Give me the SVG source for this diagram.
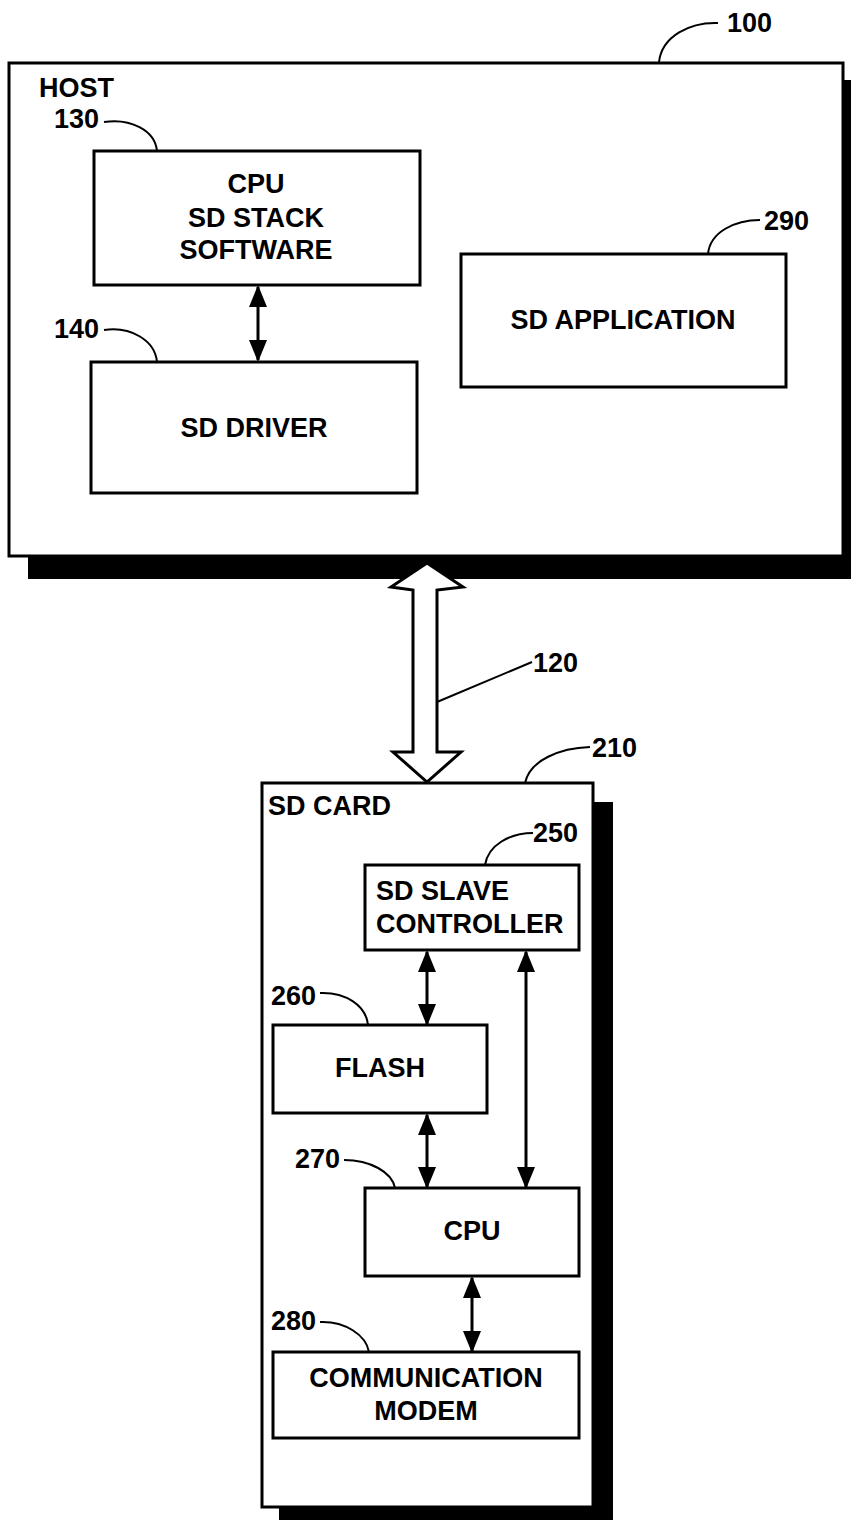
<svg xmlns="http://www.w3.org/2000/svg" width="851" height="1522" viewBox="0 0 851 1522">
<style>
.box{fill:#fff;stroke:#000;stroke-width:3}
.shadow{fill:#000}
.t{font-family:"Liberation Sans",Arial,sans-serif;font-weight:bold;font-size:27px;fill:#000}
.c{text-anchor:middle}
.lead{fill:none;stroke:#000;stroke-width:2}
.conn{stroke:#000;stroke-width:3;fill:none}
</style>
<defs>
<marker id="ah" viewBox="0 0 22 18" refX="20" refY="9" markerWidth="22" markerHeight="18" markerUnits="userSpaceOnUse" orient="auto-start-reverse">
<path d="M0,0 L22,9 L0,18 z" fill="#000"/>
</marker>
</defs>
<rect width="851" height="1522" fill="#fff"/>

<g id="host">
<rect class="shadow" x="28" y="80" width="823" height="499"/>
<rect class="box" x="9" y="63" width="834" height="493"/>
<text class="t" x="39" y="97" font-size="28">HOST</text>
<text class="t" x="727" y="32">100</text>
<path class="lead" d="M718 23 C690 22 662 36 659 62"/>
</g>

<g id="cpu130">
<rect class="box" x="94" y="151" width="326" height="134"/>
<text class="t c" x="256" y="193">CPU</text>
<text class="t c" x="256" y="227">SD STACK</text>
<text class="t c" x="256" y="259">SOFTWARE</text>
<text class="t" x="54" y="128">130</text>
<path class="lead" d="M104 122 C130 118 155 130 157 151"/>
</g>

<g id="driver140">
<rect class="box" x="91" y="362" width="326" height="131"/>
<text class="t c" x="254" y="437">SD DRIVER</text>
<text class="t" x="54" y="338">140</text>
<path class="lead" d="M104 330 C130 326 155 340 157 362"/>
</g>

<g id="app290">
<rect class="box" x="461" y="254" width="325" height="133"/>
<text class="t c" x="623" y="329">SD APPLICATION</text>
<text class="t" x="764" y="230">290</text>
<path class="lead" d="M760 220 C735 220 710 232 708 254"/>
</g>

<g id="bus120">
<path d="M427 563 L463 587 L437 590 L437 752 L461 752 L427 782 L393 752 L413 752 L413 590 L391 587 Z" fill="#fff" stroke="#000" stroke-width="3" stroke-linejoin="miter"/>
<text class="t" x="533" y="672">120</text>
<path class="lead" d="M532 662 L437 702"/>
</g>

<g id="sdcard210">
<rect class="shadow" x="279" y="802" width="334" height="718"/>
<rect class="box" x="262" y="783" width="331" height="724"/>
<text class="t" x="268" y="815" font-size="26">SD CARD</text>
<text class="t" x="592" y="757">210</text>
<path class="lead" d="M590 747 C560 748 530 760 525 783"/>
</g>

<g id="slave250">
<rect class="box" x="365" y="865" width="214" height="85"/>
<text class="t" x="376" y="900">SD SLAVE</text>
<text class="t" x="376" y="933">CONTROLLER</text>
<text class="t" x="533" y="842">250</text>
<path class="lead" d="M533 833 C510 833 488 845 485 865"/>
</g>

<g id="flash260">
<rect class="box" x="273" y="1025" width="214" height="88"/>
<text class="t c" x="380" y="1077">FLASH</text>
<text class="t" x="271" y="1005">260</text>
<path class="lead" d="M320 993 C345 992 366 1005 368 1025"/>
</g>

<g id="cpu270">
<rect class="box" x="365" y="1188" width="214" height="88"/>
<text class="t c" x="472" y="1240">CPU</text>
<text class="t" x="295" y="1168">270</text>
<path class="lead" d="M344 1160 C370 1160 392 1172 395 1188"/>
</g>

<g id="modem280">
<rect class="box" x="273" y="1352" width="306" height="86"/>
<text class="t c" x="426" y="1387">COMMUNICATION</text>
<text class="t c" x="426" y="1420">MODEM</text>
<text class="t" x="271" y="1330">280</text>
<path class="lead" d="M320 1322 C345 1321 366 1335 369 1352"/>
</g>

<g id="connectors">
<line class="conn" x1="258" y1="287" x2="258" y2="360" marker-start="url(#ah)" marker-end="url(#ah)"/>
<line class="conn" x1="427" y1="952" x2="427" y2="1024" marker-start="url(#ah)" marker-end="url(#ah)"/>
<line class="conn" x1="526" y1="952" x2="526" y2="1187" marker-start="url(#ah)" marker-end="url(#ah)"/>
<line class="conn" x1="427" y1="1115" x2="427" y2="1187" marker-start="url(#ah)" marker-end="url(#ah)"/>
<line class="conn" x1="472" y1="1278" x2="472" y2="1351" marker-start="url(#ah)" marker-end="url(#ah)"/>
</g>
</svg>
